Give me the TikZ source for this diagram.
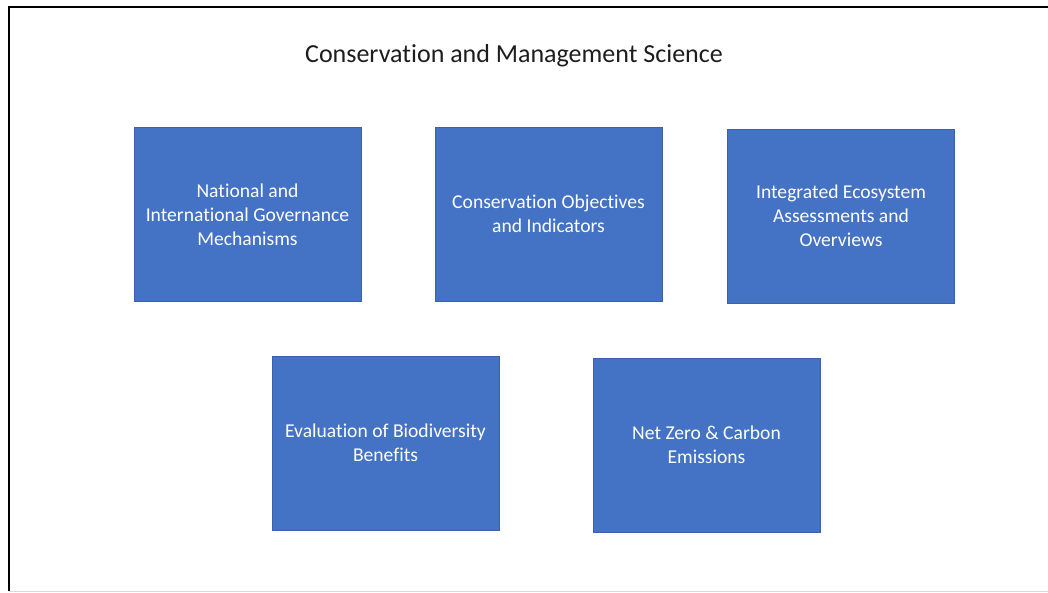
\documentclass[tikz,border=0pt]{standalone}
\usepackage{fontspec}
\setmainfont[Ligatures={NoCommon}]{Carlito}
\definecolor{boxblue}{HTML}{4472C4}
\definecolor{boxedge}{HTML}{3A62AA}
\definecolor{titlegrey}{HTML}{1E1E1E}
\begin{document}
\begin{tikzpicture}[x=1pt,y=-1pt,
  topic/.style={draw=boxedge, line width=0.8pt, fill=boxblue, text=white,
    minimum width=227pt, minimum height=174pt, inner sep=0pt,
    align=center, font=\fontsize{19.6}{24}\selectfont},
  frameline/.style={line width=2.2pt, black}]
\useasboundingbox (0,0) rectangle (1048,592);
\fill[white] (0,0) rectangle (1048,592);
% frame
\coordinate (fbl) at (9,591);
\coordinate (ftl) at (9,7);
\coordinate (ftr) at (1048,7);
\coordinate (fbr) at (1048,591);
\draw[frameline] (fbl) -- (ftl) -- (ftr);
\draw[line width=0.8pt, black!15] (fbl) -- (fbr);
% title
\node[text=titlegrey, font=\fontsize{26}{30}\selectfont, inner sep=0pt, anchor=base] (title) at (514,62) {Conservation and Management Science};
% boxes
\node[topic] (gov) at (247.5,214.5) {National and\\International Governance\\Mechanisms};
\node[topic] (obj) at (548.5,214) {Conservation Objectives\\and Indicators};
\node[topic] (iea) at (841,216) {Integrated Ecosystem\\Assessments and\\Overviews};
\node[topic] (bio) at (385.5,443) {Evaluation of Biodiversity\\Benefits};
\node[topic] (net) at (706.5,445) {Net Zero \& Carbon\\Emissions};
\end{tikzpicture}
\end{document}
